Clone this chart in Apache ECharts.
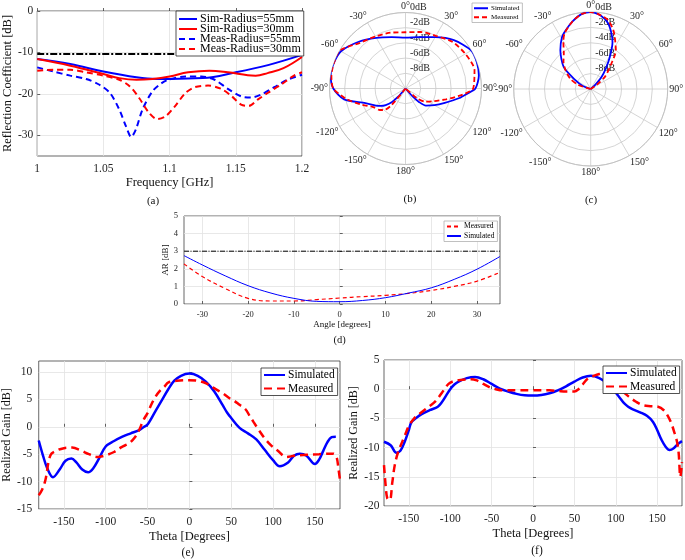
<!DOCTYPE html>
<html><head><meta charset="utf-8">
<script src="https://cdn.jsdelivr.net/npm/echarts@6/dist/echarts.min.js"></script>
<style>html,body{margin:0;padding:0;background:#fff}#c{width:685px;height:560px}</style>
</head><body><div id="c"></div><script>
// ---------- (a) reflection coefficient ----------
const s11Sim55 = [[1.000,-11.6],[1.025,-12.8],[1.050,-14.6],[1.075,-16.0],[1.090,-16.4],[1.100,-16.4],[1.125,-16.2],[1.150,-14.8],[1.175,-13.0],[1.200,-10.6]];
const s11Sim30 = [[1.000,-11.6],[1.025,-13.2],[1.050,-15.2],[1.062,-16.2],[1.075,-16.6],[1.087,-16.4],[1.100,-15.8],[1.114,-14.8],[1.130,-14.4],[1.144,-14.8],[1.159,-15.5],[1.165,-15.6],[1.174,-15.0],[1.186,-13.8],[1.200,-11.1]];
const s11Meas55 = [[1.000,-13.6],[1.012,-14.6],[1.025,-15.6],[1.037,-16.4],[1.047,-17.8],[1.055,-19.8],[1.062,-23.8],[1.067,-27.8],[1.071,-30.4],[1.0745,-28.6],[1.0795,-23.8],[1.087,-19.4],[1.094,-17.4],[1.099,-16.6],[1.112,-15.8],[1.124,-15.8],[1.134,-16.6],[1.144,-18.8],[1.154,-20.6],[1.1615,-20.9],[1.169,-20.2],[1.179,-18.4],[1.189,-16.6],[1.200,-15.4]];
const s11Meas30 = [[1.000,-14.4],[1.012,-14.2],[1.025,-14.2],[1.037,-14.8],[1.050,-15.6],[1.062,-16.6],[1.070,-18.2],[1.077,-21.0],[1.0845,-24.6],[1.0907,-26.1],[1.097,-25.4],[1.104,-23.0],[1.112,-19.8],[1.119,-18.4],[1.129,-18.0],[1.139,-18.8],[1.147,-20.6],[1.154,-22.6],[1.160,-22.9],[1.1665,-21.4],[1.174,-19.8],[1.184,-17.8],[1.194,-15.6],[1.200,-14.8]];
const s11Limit = -10.4;
const legendA = ['Sim-Radius=55mm','Sim-Radius=30mm','Meas-Radius=55mm','Meas-Radius=30mm'];

// ---------- (b) polar pattern ----------
const angB_sim  = [-180,-142,-138,-135,-130,-125,-120,-110,-100,-90,-80,-70,-60,-45,-30,-15,0,15,30,45,60,70,80,90,95,100,110,120,130,135,138,142,180];
const patB_sim  = [-10,-10,-8.5,-7.5,-6.6,-6.0,-5.5,-4.4,-1.8,-0.5,0,0,-0.2,-1.3,-2.3,-3.0,-3.3,-3.0,-2.2,-1.0,0,0,-0.2,-0.8,-1.9,-2.8,-4.5,-5.6,-6.5,-7.5,-8.5,-10,-10];
const angB_meas = [-180,-146,-140,-135,-130,-120,-110,-100,-90,-80,-70,-60,-45,-30,-15,0,15,30,45,60,75,90,96,105,115,124,130,136,180];
const patB_meas = [-10,-10,-7.2,-6.0,-5.6,-5.1,-3.8,-2.1,-0.5,-0.1,0,0,-1.5,-2.1,-2.4,-2.6,-2.3,-2.0,-1.3,-0.9,-0.6,-1.1,-2.4,-4.5,-6.0,-6.9,-8,-10,-10];

// ---------- (c) polar pattern ----------
const angC_sim  = [-180,-78,-69,-60,-51,-38,-29,-23,-15,-7,0,8,15,21,25,31,36,42,47,52,180];
const patC_sim  = [-10,-10,-8.9,-7.7,-5.5,-3.6,-2.3,-1.7,-0.9,-0.2,0,-0.4,-1.2,-2.4,-3.3,-5.2,-6.6,-7.9,-9.2,-10,-10];
const angC_meas = [-180,-82,-72,-63,-53,-45,-37,-30,-25,-15,-7,0,7,14,21,25,33,39,49,55,60,180];
const patC_meas = [-10,-10,-8.3,-7.0,-5.9,-5.0,-4.2,-2.9,-2.0,-0.9,-0.2,0,-0.3,-0.75,-1.8,-2.6,-4.0,-5.7,-7.5,-9,-10,-10];
const radTicks = [-10,-8,-6,-4,-2,0];

// ---------- (d) axial ratio ----------
const angD   = [-34,-30,-25,-20,-15,-10,-5,0,5,10,15,20,25,30,35];
const arSim  = [2.75,2.22,1.6,1.04,0.62,0.32,0.15,0.13,0.2,0.36,0.62,0.92,1.4,1.98,2.7];
const arMeas = [2.28,1.56,0.88,0.32,0.17,0.17,0.25,0.34,0.42,0.49,0.6,0.77,1.0,1.3,1.8];
const arLimit = 3;
const ticksD = [-30,-20,-10,0,10,20,30];

// ---------- (e) realized gain ----------
const thE_sim = [-180,-175,-170,-163,-155,-148,-141,-135,-128,-121,-115,-108,-100,-90,-80,-70,-60,-55,-50,-40,-33,-25,-18,-10,0,10,20,30,40,45,50,60,70,80,90,100,108,118,125,132,140,150,155,160,165,170,175];
const gE_sim  = [-2.5,-5.2,-7.5,-9.2,-7.8,-6.2,-5.8,-6.5,-7.8,-8.3,-7.6,-5.8,-3.6,-2.6,-1.8,-1.2,-0.6,-0.1,0.4,3.0,4.8,6.9,8.4,9.3,9.7,9.3,8.2,6.4,3.9,2.6,1.6,-0.2,-1.2,-2.3,-4.2,-6.1,-7.2,-6.5,-5.3,-4.9,-5.3,-6.8,-6.0,-4.4,-2.8,-1.9,-1.8];
const thE_meas = [-180,-176,-172,-166,-158,-150,-140,-130,-120,-110,-100,-90,-81,-72,-65,-60,-55,-50,-45,-40,-35,-30,-25,-15,0,10,20,30,40,48,53,60,67,72,77,83,89,97,105,116,125,140,155,172,176,178,180];
const gE_meas  = [-12.5,-11.5,-9.7,-5.2,-4.3,-3.9,-3.8,-4.3,-5.0,-5.5,-5.2,-4.6,-3.7,-3.0,-1.9,-0.6,1.2,2.5,4.2,5.6,6.6,7.3,8.1,8.4,8.5,8.4,7.9,7.0,6.1,5.2,4.8,4.0,3.2,2.0,0.8,-0.6,-1.9,-3.3,-4.3,-5.5,-5.3,-5.1,-5.0,-4.9,-5.6,-7.5,-9.7];

// ---------- (f) realized gain ----------
const thF_sim = [-180,-172,-165,-160,-155,-150,-147,-140,-135,-125,-115,-110,-105,-100,-95,-90,-80,-70,-60,-50,-40,-30,-20,-10,0,10,20,30,40,50,60,70,80,90,95,100,105,110,115,120,130,138,145,150,155,160,165,170,175,180];
const gF_sim  = [-9,-9.6,-10.9,-10.5,-9,-7,-5.7,-4.8,-4.3,-3.6,-3.0,-2.2,-1.1,0,0.8,1.3,1.9,2.1,1.7,0.9,0.1,-0.4,-0.8,-1.05,-1.1,-1.0,-0.7,-0.2,0.5,1.3,2.0,2.3,1.9,1.0,0.3,-0.6,-1.5,-2.4,-3.0,-3.4,-4.0,-4.6,-5.6,-7,-8.6,-9.8,-10.4,-10.1,-9.4,-8.9];
const thF_meas = [-180,-178,-176,-173,-170,-167,-163,-155,-150,-143,-135,-125,-118,-110,-102,-95,-85,-75,-68,-60,-52,-45,-36,-20,0,20,30,40,50,55,60,66,72,80,88,95,100,108,116,124,132,142,151,158,163,167,171,174,176,178,180];
const gF_meas  = [-13,-16.5,-18.7,-19,-16,-13,-10.8,-8,-6.3,-4.9,-4.0,-2.9,-2.1,-0.6,0.9,1.4,1.6,1.7,1.5,0.9,0.3,0,-0.2,-0.2,-0.2,-0.2,-0.3,-0.4,-0.4,0,0.8,1.8,2.2,2.6,2.7,2.0,1.2,-0.3,-1.3,-2.1,-2.7,-2.9,-3.0,-3.6,-4.6,-5.8,-7.5,-9,-11,-15,-12.5];
const ticksTheta = [-150,-100,-50,0,50,100,150];
const ticksE = [-15,-10,-5,0,5,10];

// ---------- helpers ----------
const FF = '"Liberation Serif","Times New Roman",serif';
const AX = '#262626', GRIDC = '#e2e2e2', BLUE = '#0000ff', RED = '#ff0000';
const pairs = (xs, ys) => xs.map((x, i) => [x, ys[i]]);
const polarPairs = (as, vs) => as.map((a, i) => [vs[i], a < 0 ? a + 360 : a]);
const strip = n => n.split('|')[0];

function xAxisCfg(gi, o) {
  return {
    gridIndex: gi, type: 'value', min: o.min, max: o.max, interval: o.interval,
    name: o.name, nameLocation: 'middle', nameGap: o.nameGap,
    nameTextStyle: { fontFamily: FF, fontSize: o.nameSize, color: '#111' },
    axisLine: { show: false },
    axisTick: { inside: true, length: 3, lineStyle: { color: AX, width: 0.7 }, customValues: o.custom },
    axisLabel: { fontFamily: FF, fontSize: o.labelSize, color: AX, margin: o.margin, customValues: o.custom, formatter: o.fmt },
    splitLine: { show: true, lineStyle: { color: GRIDC, width: 0.8 } }
  };
}
function yAxisCfg(gi, o) {
  return {
    gridIndex: gi, type: 'value', min: o.min, max: o.max, interval: o.interval,
    name: o.name, nameLocation: 'middle', nameGap: o.nameGap, nameRotate: 90,
    nameTextStyle: { fontFamily: FF, fontSize: o.nameSize, color: '#111' },
    axisLine: { show: false },
    axisTick: { inside: true, length: 3, lineStyle: { color: AX, width: 0.7 }, customValues: o.custom },
    axisLabel: { fontFamily: FF, fontSize: o.labelSize, color: AX, margin: o.margin, customValues: o.custom },
    splitLine: { show: true, lineStyle: { color: GRIDC, width: 0.8 } }
  };
}
function cline(name, gi, data, color, width, type, smooth) {
  return {
    name, type: 'line', xAxisIndex: gi, yAxisIndex: gi, data, symbol: 'none',
    smooth: smooth === undefined ? 0.3 : smooth, silent: true,
    lineStyle: { color, width, type }, itemStyle: { color }, z: 3
  };
}
function pline(name, pi, data, color, width, type) {
  return {
    name, type: 'line', coordinateSystem: 'polar', polarIndex: pi, data, symbol: 'none',
    smooth: 0.25, silent: true, lineStyle: { color, width, type }, itemStyle: { color }, z: 3
  };
}
function polarAngle(pi) {
  return {
    polarIndex: pi, type: 'value', min: 0, max: 360, interval: 30, startAngle: 90, clockwise: true,
    axisLine: { show: true, lineStyle: { color: '#bdbdbd', width: 0.8 } },
    axisTick: { show: false },
    splitLine: { show: true, lineStyle: { color: '#c9c9c9', width: 0.8 } },
    axisLabel: { fontFamily: FF, fontSize: 10, color: AX, margin: 1.5,
      formatter: v => (v > 180 ? v - 360 : v) + '°' }
  };
}
function polarRadius(pi) {
  return {
    polarIndex: pi, type: 'value', min: radTicks[0], max: radTicks[radTicks.length - 1], interval: 2,
    axisLine: { show: false }, axisTick: { show: false },
    splitLine: { show: true, lineStyle: { color: '#c9c9c9', width: 0.8 } },
    axisLabel: { inside: true, fontFamily: FF, fontSize: 10, color: AX, margin: -4.5, verticalAlign: 'bottom', align: 'left',
      formatter: v => (v <= radTicks[0] ? '' : v + 'dB') }
  };
}
function legendCfg(o) {
  return {
    data: o.data, left: o.left, top: o.top, orient: 'vertical',
    itemWidth: o.iw, itemHeight: o.ih, itemGap: o.gap, padding: o.pad,
    borderColor: o.border, borderWidth: 0.8, borderRadius: 0, backgroundColor: '#fff',
    formatter: strip, selectedMode: false,
    itemStyle: { opacity: 0 },
    textStyle: { fontFamily: FF, fontSize: o.fs, color: '#000', lineHeight: o.lh, padding: [0, 0, 0, -2] }
  };
}
function label(text, x, y, fs) {
  return { type: 'text', x, y, silent: true,
    style: { text, fontFamily: FF, fontSize: fs, fill: '#111', align: 'center', verticalAlign: 'middle' } };
}

const option = {
  animation: false,
  backgroundColor: '#fff',
  textStyle: { fontFamily: FF },
  grid: [
    { left: 34, top: 11, width: 268, height: 145, show: true, borderColor: AX, borderWidth: 0.7 },
    { left: 184, top: 216, width: 316, height: 88, show: true, borderColor: AX, borderWidth: 0.7 },
    { left: 38, top: 361, width: 302, height: 148, show: true, borderColor: AX, borderWidth: 0.7 },
    { left: 384, top: 360, width: 298, height: 146, show: true, borderColor: AX, borderWidth: 0.7 }
  ],
  xAxis: [
    xAxisCfg(0, { min: 1, max: 1.2, interval: 0.05, name: 'Frequency [GHz]', nameGap: 20, nameSize: 12.5, labelSize: 11.5, margin: 7,
      fmt: v => String(Math.round(v * 100) / 100) }),
    xAxisCfg(1, { min: angD[0], max: angD[angD.length - 1], custom: ticksD, name: 'Angle [degrees]', nameGap: 14, nameSize: 9, labelSize: 8.5, margin: 6 }),
    xAxisCfg(2, { min: -180, max: 180, custom: ticksTheta, name: 'Theta [Degrees]', nameGap: 21, nameSize: 12.5, labelSize: 11.5, margin: 6.5 }),
    xAxisCfg(3, { min: -180, max: 180, custom: ticksTheta, name: 'Theta [Degrees]', nameGap: 21, nameSize: 12.5, labelSize: 11.5, margin: 7 })
  ],
  yAxis: [
    yAxisCfg(0, { min: -35, max: 0, custom: [-30, -20, -10, 0], name: 'Reflection Coefficient [dB]', nameGap: 22, nameSize: 12.5, labelSize: 11.5, margin: 4 }),
    yAxisCfg(1, { min: 0, max: 5, interval: 1, name: 'AR [dB]', nameGap: 11, nameSize: 9, labelSize: 8.5, margin: 6 }),
    yAxisCfg(2, { min: -15, max: 12, custom: ticksE, name: 'Realized Gain [dB]', nameGap: 23, nameSize: 12, labelSize: 11.5, margin: 6.5 }),
    yAxisCfg(3, { min: -20, max: 5, interval: 5, name: 'Realized Gain [dB]', nameGap: 23, nameSize: 12, labelSize: 11.5, margin: 4.5 })
  ],
  polar: [
    { center: [405.5, 88.5], radius: 76 },
    { center: [590.7, 89], radius: 77 }
  ],
  angleAxis: [polarAngle(0), polarAngle(1)],
  radiusAxis: [polarRadius(0), polarRadius(1)],
  legend: [
    legendCfg({ data: legendA, left: 176, top: 11, iw: 18, ih: 8, gap: -2, pad: [2, 3, 1, 2], border: AX, fs: 12, lh: 10 }),
    legendCfg({ data: ['Simulated|b', 'Measured|b'], left: 472, top: 3, iw: 14, ih: 6, gap: 0.5, pad: [1, 3, 1, 1], border: '#b0b0b0', fs: 7, lh: 8.5 }),
    legendCfg({ data: ['Measured|d', 'Simulated|d'], left: 444, top: 221, iw: 14, ih: 6, gap: 0.5, pad: [1, 3, 1, 2], border: '#b0b0b0', fs: 7.5, lh: 9 }),
    legendCfg({ data: ['Simulated|e', 'Measured|e'], left: 261, top: 368, iw: 21, ih: 8, gap: 1.5, pad: [1, 3, 1, 2], border: AX, fs: 11.5, lh: 12 }),
    legendCfg({ data: ['Simulated|f', 'Measured|f'], left: 603, top: 366, iw: 21, ih: 8, gap: 1.5, pad: [1, 3, 1, 2], border: AX, fs: 11.5, lh: 12 })
  ],
  graphic: [
    label('(a)', 153, 201.5, 11),
    label('(b)', 410, 199.5, 11),
    label('(c)', 591, 200, 11),
    label('(d)', 339.5, 340.5, 10.5),
    label('(e)', 188, 552.5, 11.5),
    label('(f)', 537, 550.5, 11.5)
  ],
  series: [
    cline('limit|a', 0, [[1, s11Limit], [1.2, s11Limit]], '#000', 2, [7, 2, 2, 2], false),
    cline('Sim-Radius=55mm', 0, s11Sim55, BLUE, 2, 'solid', 0.4),
    cline('Sim-Radius=30mm', 0, s11Sim30, RED, 2, 'solid', 0.4),
    cline('Meas-Radius=55mm', 0, s11Meas55, BLUE, 2, [6, 4], 0.3),
    cline('Meas-Radius=30mm', 0, s11Meas30, RED, 2, [6, 4], 0.3),

    pline('Simulated|b', 0, polarPairs(angB_sim, patB_sim), BLUE, 1.8, 'solid'),
    pline('Measured|b', 0, polarPairs(angB_meas, patB_meas), RED, 1.8, [5, 3]),
    pline('Simulated|c', 1, polarPairs(angC_sim, patC_sim), BLUE, 1.8, 'solid'),
    pline('Measured|c', 1, polarPairs(angC_meas, patC_meas), RED, 1.8, [5, 3]),

    cline('limit|d', 1, [[angD[0], arLimit], [angD[angD.length - 1], arLimit]], '#000', 1, [5, 1.5, 1, 1.5], false),
    cline('Measured|d', 1, pairs(angD, arMeas), RED, 1.2, [4, 3], 0.4),
    cline('Simulated|d', 1, pairs(angD, arSim), BLUE, 1, 'solid', 0.4),

    cline('Simulated|e', 2, pairs(thE_sim, gE_sim), BLUE, 2.5, 'solid', 0.35),
    cline('Measured|e', 2, pairs(thE_meas, gE_meas), RED, 2.5, [8, 5], 0.35),

    cline('Simulated|f', 3, pairs(thF_sim, gF_sim), BLUE, 2.5, 'solid', 0.35),
    cline('Measured|f', 3, pairs(thF_meas, gF_meas), RED, 2.5, [8, 5], 0.35)
  ]
};

const chart = echarts.init(document.getElementById('c'), null, { renderer: 'canvas', width: 685, height: 560 });
chart.setOption(option);
</script></body></html>
